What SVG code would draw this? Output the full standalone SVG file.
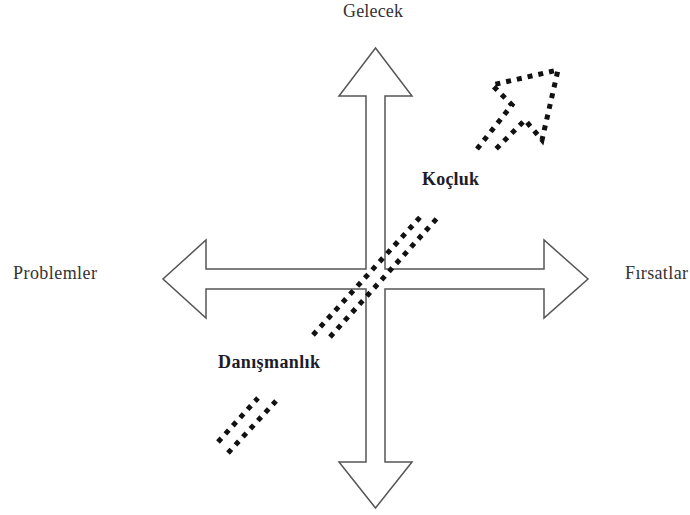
<svg xmlns="http://www.w3.org/2000/svg" width="690" height="515" viewBox="0 0 690 515">
<style>
.lbl{font-family:"Liberation Serif","Times New Roman",serif;font-size:18px;fill:#333}
.bold{font-family:"Liberation Serif","Times New Roman",serif;font-size:18px;font-weight:bold;fill:#1c1c2a}
.outline{fill:#fff;stroke:#555;stroke-width:1.5;stroke-linejoin:miter}
.dots{fill:none;stroke:#111;stroke-width:5;stroke-dasharray:5 6;stroke-linecap:butt}
</style>
<rect width="690" height="515" fill="#fff"/>
<g id="cross">
<polygon class="outline" points="375.5,48 412,96 385,96 385,269 544,269 544,240 588,279 544,318 544,289 385,289 385,462 412,462 375.5,508 339,462 366,462 366,289 206,289 206,318 163,279 206,240 206,269 366,269 366,96 339,96"/>
</g>
<g id="connectors">
<g id="diagonal-arrow">
<path class="dots" d="M218,442 L258,398"/>
<path class="dots" d="M228,453 L276,401"/>
<path class="dots" d="M313,335 L423,214"/>
<path class="dots" d="M330,337 L440,215"/>
<path class="dots" d="M477,149 L512,105 L492,85 L558,70 L542,140 L525,120 L493,152"/>
</g>
</g>
<g id="gelecek"><text class="lbl" x="343" y="17" textLength="60">Gelecek</text></g>
<g id="problemler"><text class="lbl" x="13" y="279" textLength="84">Problemler</text></g>
<g id="firsatlar"><text class="lbl" x="625" y="279" textLength="63">Fırsatlar</text></g>
<g id="kocluk"><text class="bold" x="422" y="185" textLength="57">Koçluk</text></g>
<g id="danismanlik"><text class="bold" x="218" y="368" textLength="102">Danışmanlık</text></g>
</svg>
